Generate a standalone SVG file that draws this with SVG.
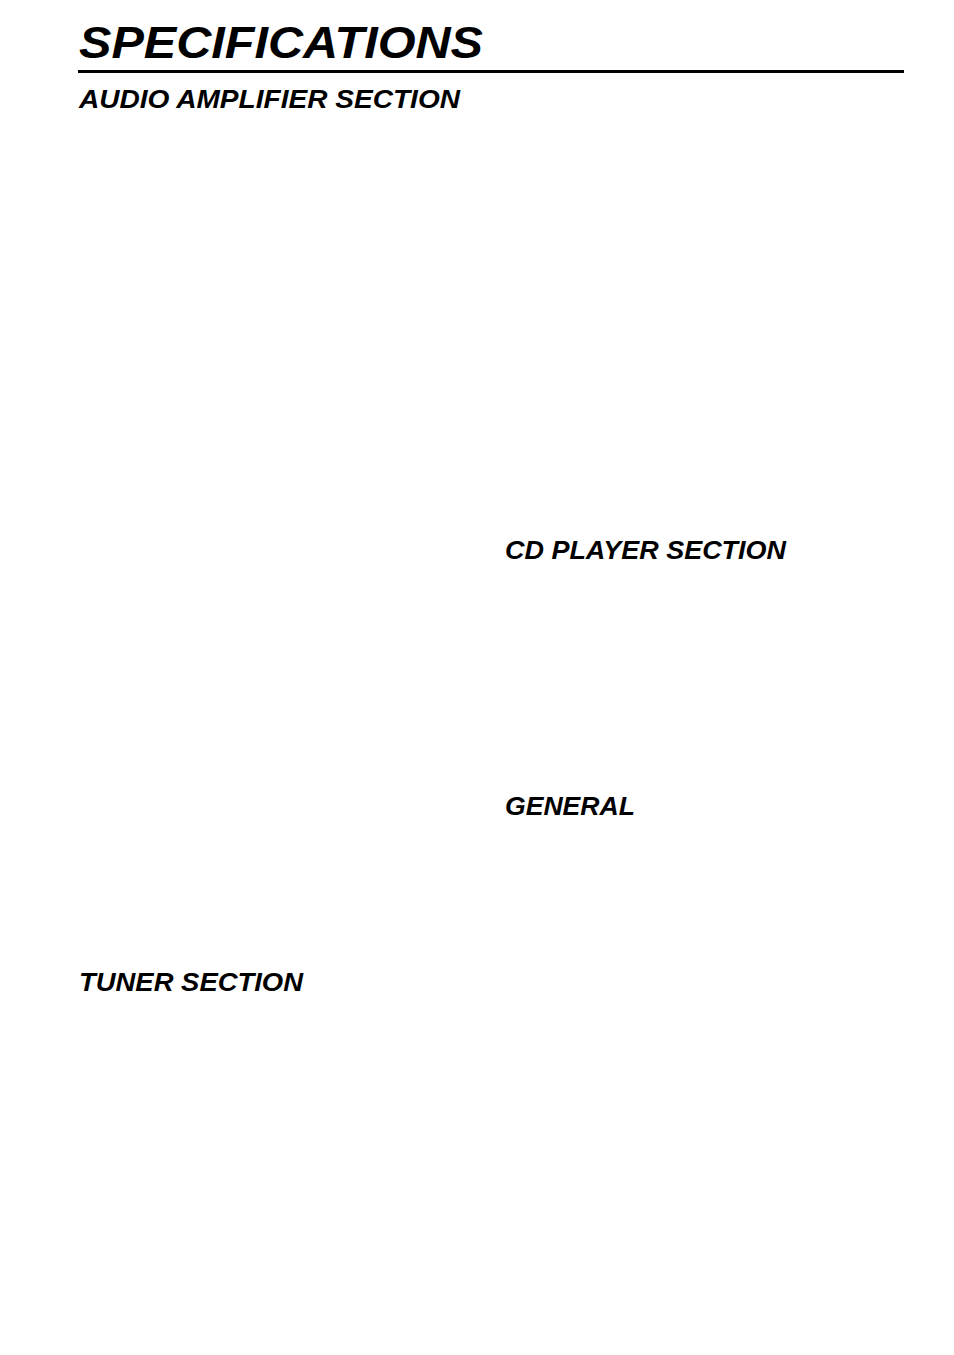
<svg xmlns="http://www.w3.org/2000/svg" width="954" height="1355" viewBox="0 0 954 1355">
<style>
text{font-family:"Liberation Sans",Arial,sans-serif;font-weight:bold;font-style:italic;fill:#000}
.h{font-size:26px}
</style>
<rect width="954" height="1355" fill="#fff"/>
<g id="title"><text x="79" y="58" font-size="44" textLength="404" lengthAdjust="spacingAndGlyphs">SPECIFICATIONS</text></g>
<line x1="78" y1="71.5" x2="904" y2="71.5" stroke="#000" stroke-width="3"/>
<g id="audio"><text class="h" x="79" y="108" textLength="381" lengthAdjust="spacingAndGlyphs">AUDIO AMPLIFIER SECTION</text></g>
<g id="cd"><text class="h" x="505" y="559" textLength="281" lengthAdjust="spacingAndGlyphs">CD PLAYER SECTION</text></g>
<g id="general"><text class="h" x="505" y="815" textLength="130" lengthAdjust="spacingAndGlyphs">GENERAL</text></g>
<g id="tuner"><text class="h" x="79" y="991" textLength="224" lengthAdjust="spacingAndGlyphs">TUNER SECTION</text></g>
</svg>
